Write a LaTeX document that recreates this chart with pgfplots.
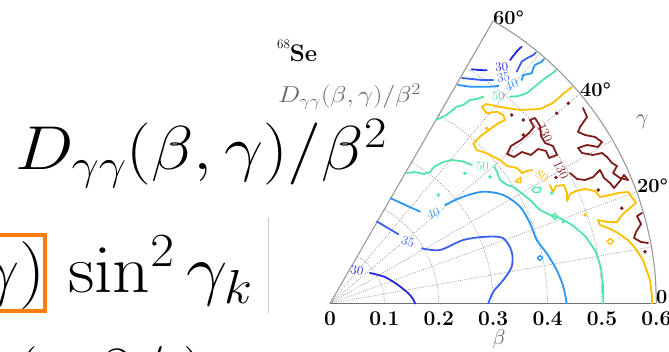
\RequirePackage{fix-cm}
\documentclass[border=0pt]{standalone}
\usepackage{pgfplots}
\pgfplotsset{compat=1.18}
\definecolor{c30}{RGB}{40,40,225}
\definecolor{c35}{RGB}{60,95,240}
\definecolor{c40}{RGB}{40,150,245}
\definecolor{c50}{RGB}{80,230,170}
\definecolor{c80}{RGB}{255,190,0}
\definecolor{c130}{RGB}{128,28,28}
\definecolor{boxorange}{RGB}{255,125,15}
\begin{document}
\begin{tikzpicture}[x=1pt,y=1pt,
  gridl/.style={black!45, line width=0.6pt, dash pattern=on 0.9pt off 1.3pt},
  cl/.style={line width=1.8pt, line join=round, line cap=round},
  lab/.style={font=\fontsize{13}{14}\selectfont, inner sep=0}]
\useasboundingbox (0,0) rectangle (669,352);
% ---- surrounding text of the screenshot ----
\node[anchor=base west, inner sep=0, xscale=1.12, font=\fontsize{62}{70}\selectfont] at (15,182) {$D_{\gamma\gamma}(\beta,\gamma)/\beta^2$};
\node[anchor=base east, inner sep=0, xscale=1.08, font=\fontsize{68}{72}\selectfont] at (46,59) {$\gamma)$};
\node[anchor=base west, inner sep=0, xscale=1.08, font=\fontsize{68}{72}\selectfont] at (68,59) {$\sin^2\gamma_k$};
\node[anchor=base west, inner sep=0, font=\fontsize{64}{70}\selectfont] at (15,-43) {$(\hspace{58pt}\partial\hspace{2pt}/\hspace{18pt})$};
\draw[boxorange, line width=4pt] (-10,40.7) rectangle (44.7,116.7);
\draw[black!22, line width=0.8pt] (268.3,39) -- (268.3,134);
\node[anchor=base west, inner sep=0] at (277,290) {\fontsize{13}{13}\selectfont\raisebox{13.5pt}{68}\fontsize{24}{28}\selectfont\bfseries Se};
\node[anchor=base west, inner sep=0, xscale=1.15, text=black!60, font=\fontsize{23}{26}\selectfont] at (278,249) {$D_{\gamma\gamma}(\beta,\gamma)/\beta^2$};
% ---- angle labels ----
\node[anchor=base west, inner sep=0, font=\fontsize{20}{24}\selectfont\bfseries] at (493,327) {60°};
\node[anchor=base west, inner sep=0, font=\fontsize{20}{24}\selectfont\bfseries] at (580,255) {40°};
\node[anchor=base west, inner sep=0, font=\fontsize{20}{24}\selectfont\bfseries] at (637,159) {20°};
\node[anchor=base west, inner sep=0, font=\fontsize{20}{24}\selectfont\bfseries] at (656,48.5) {0};
\node[anchor=base west, inner sep=0, text=black!65, font=\fontsize{22}{24}\selectfont] at (636,227.5) {$\gamma$};
\node[anchor=base, inner sep=0, text=black!65, font=\fontsize{21}{24}\selectfont] at (499,7) {$\beta$};
% ---- the polar wedge ----
\begin{axis}[
  at={(330pt,48.5pt)}, anchor=south west,
  x=544pt, y=544pt,
  xmin=0, xmax=0.6, ymin=0, ymax=0.53,
  clip=false,
  axis x line*=bottom, axis y line=none,
  x axis line style={draw=none},
  xtick={0,0.1,0.2,0.3,0.4,0.5,0.6},
  xticklabels={\textbf{0},\textbf{0.1},\textbf{0.2},\textbf{0.3},\textbf{0.4},\textbf{0.5},\textbf{0.6}},
  major tick length=0pt,
  xticklabel style={font=\fontsize{21}{24}\selectfont, inner sep=1pt, yshift=-7pt},
]
% grid arcs
\addplot[gridl, data cs=polar, smooth] coordinates {(0,0.1) (5,0.1) (10,0.1) (15,0.1) (20,0.1) (25,0.1) (30,0.1) (35,0.1) (40,0.1) (45,0.1) (50,0.1) (55,0.1) (60,0.1)};
\addplot[gridl, data cs=polar, smooth] coordinates {(0,0.2) (5,0.2) (10,0.2) (15,0.2) (20,0.2) (25,0.2) (30,0.2) (35,0.2) (40,0.2) (45,0.2) (50,0.2) (55,0.2) (60,0.2)};
\addplot[gridl, data cs=polar, smooth] coordinates {(0,0.3) (5,0.3) (10,0.3) (15,0.3) (20,0.3) (25,0.3) (30,0.3) (35,0.3) (40,0.3) (45,0.3) (50,0.3) (55,0.3) (60,0.3)};
\addplot[gridl, data cs=polar, smooth] coordinates {(0,0.4) (5,0.4) (10,0.4) (15,0.4) (20,0.4) (25,0.4) (30,0.4) (35,0.4) (40,0.4) (45,0.4) (50,0.4) (55,0.4) (60,0.4)};
\addplot[gridl, data cs=polar, smooth] coordinates {(0,0.5) (5,0.5) (10,0.5) (15,0.5) (20,0.5) (25,0.5) (30,0.5) (35,0.5) (40,0.5) (45,0.5) (50,0.5) (55,0.5) (60,0.5)};
% grid rays
\addplot[gridl, data cs=polar] coordinates {(10,0) (10,0.6)};
\addplot[gridl, data cs=polar] coordinates {(20,0) (20,0.6)};
\addplot[gridl, data cs=polar] coordinates {(30,0) (30,0.6)};
\addplot[gridl, data cs=polar] coordinates {(40,0) (40,0.6)};
\addplot[gridl, data cs=polar] coordinates {(50,0) (50,0.6)};
% frame
\addplot[black!40, line width=1.1pt, data cs=polar, smooth] coordinates {(0,0.6) (5,0.6) (10,0.6) (15,0.6) (20,0.6) (25,0.6) (30,0.6) (35,0.6) (40,0.6) (45,0.6) (50,0.6) (55,0.6) (60,0.6)};
\addplot[black!40, line width=1.1pt, data cs=polar] coordinates {(60,0) (60,0.6)};
\addplot[black!55, line width=1.4pt] coordinates {(0,0) (0.6,0)};

% ---- contour 30 ----
\addplot[cl, c30, smooth, tension=0.5] coordinates {(0.0735,0.0561) (0.1011,0.0487) (0.1250,0.0340) (0.1434,0.0193) (0.1526,0.0083) (0.1563,0)};
\addplot[cl, c30] coordinates {(0.2605,0.4305) (0.2739,0.4292) (0.2881,0.4287)};
\addplot[cl, c30] coordinates {(0.3309,0.4476) (0.3382,0.4568) (0.3456,0.4660) (0.3524,0.4721)};
\node[lab, text=c30, rotate=-10] at (axis cs:0.0496,0.0616) {30};
\node[lab, text=c30, rotate=5] at (axis cs:0.3156,0.4347) {30};
% ---- contour 35 ----
\addplot[cl, c35, smooth, tension=0.5] coordinates {(0.0864,0.1507) (0.1256,0.1272)};
\addplot[cl, c35, smooth, tension=0.5] coordinates {(0.1686,0.1015) (0.2022,0.0983) (0.2450,0.1167) (0.2881,0.1228) (0.3186,0.1199) (0.3340,0.0952) (0.3340,0.0676) (0.3186,0.0432) (0.3002,0.0217) (0.2910,0)};
\addplot[cl, c35] coordinates {(0.2426,0.4145) (0.2789,0.4108) (0.3002,0.4108)};
\addplot[cl, c35] coordinates {(0.3432,0.4261) (0.3524,0.4445) (0.3616,0.4507) (0.3737,0.4568) (0.3787,0.4614)};
\node[lab, text=c35, rotate=-20] at (axis cs:0.1434,0.1136) {35};
\node[lab, text=c35, rotate=10] at (axis cs:0.3186,0.4151) {35};
% ---- contour 40 ----
\addplot[cl, c40, smooth, tension=0.5] coordinates {(0.1116,0.1934) (0.1654,0.1688)};
\addplot[cl, c40, smooth, tension=0.5] coordinates {(0.2114,0.1811) (0.2450,0.1963) (0.2818,0.2055) (0.3186,0.1994) (0.3493,0.1779) (0.3676,0.1474) (0.3800,0.1167) (0.3983,0.0923) (0.4167,0.0616) (0.4289,0.0309) (0.4351,0)};
\addplot[cl, c40, line width=1.3pt] coordinates {(0.381,0.083) (0.386,0.088) (0.391,0.084) (0.386,0.079) (0.381,0.083)};
\addplot[cl, c40] coordinates {(0.2353,0.4017) (0.2574,0.3985) (0.2941,0.3985) (0.3100,0.4000)};
\addplot[cl, c40] coordinates {(0.3524,0.4108) (0.3553,0.4200) (0.3708,0.4232) (0.3737,0.4323) (0.3768,0.4384) (0.3891,0.4445) (0.3934,0.4494)};
\node[lab, text=c40, rotate=18] at (axis cs:0.1899,0.1658) {40};
\node[lab, text=c40, rotate=20] at (axis cs:0.3340,0.4017) {40};
% ---- contour 50 ----
\addplot[cl, c50] coordinates {(0.1949,0.3373) (0.2145,0.3465) (0.2260,0.3560) (0.2329,0.3618) (0.2450,0.3650) (0.2574,0.3741) (0.2700,0.3760) (0.2818,0.3801)};
\addplot[cl, c50] coordinates {(0.3309,0.3801) (0.3450,0.3810) (0.3616,0.3864) (0.3800,0.4017) (0.3952,0.4140) (0.4105,0.4243) (0.4154,0.4292)};
\node[lab, text=c50] at (axis cs:0.3094,0.3801) {50};
\addplot[cl, c50] coordinates {(0.1415,0.2399) (0.1563,0.2417) (0.1728,0.2381) (0.1838,0.2417) (0.1912,0.2509) (0.2077,0.2601) (0.2243,0.2638) (0.2445,0.2610) (0.2610,0.2546)};
\node[lab, text=c50] at (axis cs:0.2803,0.2528) {50};
\addplot[cl, c50] coordinates {(0.3015,0.2528) (0.3070,0.2417) (0.3125,0.2270) (0.3254,0.2178) (0.3382,0.2140) (0.3493,0.2050) (0.3676,0.1903) (0.3860,0.1719) (0.4044,0.1627) (0.4228,0.1572) (0.4449,0.1443) (0.4600,0.1320) (0.4706,0.1222) (0.4890,0.0947) (0.4982,0.0653) (0.5018,0.0340) (0.5024,0)};
\addplot[cl, c50, line width=1.3pt] coordinates {(0.371,0.209) (0.377,0.214) (0.388,0.212) (0.386,0.205) (0.376,0.204) (0.371,0.209)};
\addplot[cl, c50, line width=1.3pt] coordinates {(0.408,0.160) (0.413,0.166) (0.419,0.160) (0.413,0.154) (0.408,0.160)};
\addplot[only marks, mark=*, mark size=1.6pt, c50] coordinates {(0.2482,0.2393) (0.2941,0.2325) (0.1991,0.1994) (0.4289,0.1504) (0.4075,0.2026)};
% ---- contour 80 ----
\addplot[cl, c80] coordinates {(0.4449,0.3980) (0.4283,0.3851) (0.4099,0.3686) (0.3860,0.3575) (0.3493,0.3557) (0.3125,0.3612) (0.2868,0.3667) (0.2794,0.3612) (0.2881,0.3496) (0.3064,0.3526) (0.3186,0.3465) (0.3217,0.3373) (0.3094,0.3313) (0.3002,0.3250) (0.2881,0.3158) (0.2757,0.3066) (0.2634,0.2945) (0.2697,0.2822) (0.2881,0.2761) (0.3125,0.2638) (0.3254,0.2528) (0.3438,0.2491) (0.3529,0.2399) (0.3621,0.2436) (0.3713,0.2454)};
\node[lab, text=c80, rotate=-35] at (axis cs:0.3897,0.2344) {80};
\addplot[cl, c80] coordinates {(0.4044,0.2178) (0.4099,0.2050) (0.4154,0.2160) (0.4301,0.2178) (0.4357,0.2031) (0.4357,0.1884) (0.4412,0.2013) (0.4522,0.2068) (0.4688,0.2105) (0.4871,0.2068) (0.4963,0.1958) (0.5147,0.1994) (0.5294,0.2031) (0.5478,0.2050) (0.5625,0.1847) (0.5515,0.1756) (0.5368,0.1627) (0.5276,0.1498) (0.5092,0.1498) (0.4926,0.1535) (0.4963,0.1443) (0.5110,0.1388) (0.5294,0.1296) (0.5478,0.1167) (0.5607,0.1020) (0.5754,0.0800) (0.5882,0.0432) (0.5919,0.0119) (0.5919,0)};
\addplot[cl, c80, line width=1.3pt] coordinates {(0.340,0.224) (0.351,0.232) (0.350,0.222) (0.340,0.224)};
\addplot[cl, c80, line width=1.3pt] coordinates {(0.509,0.114) (0.515,0.120) (0.521,0.114) (0.515,0.108) (0.509,0.114)};
\addplot[only marks, mark=*, mark size=1.5pt, c80] coordinates {(0.4688,0.1627) (0.2881,0.3221)};
% ---- contour 130 ----
\addplot[cl, c130] coordinates {(0.4651,0.3594) (0.4724,0.3428) (0.4596,0.3244) (0.4559,0.3153) (0.4688,0.3097) (0.4871,0.3061) (0.5000,0.2969) (0.4926,0.2877) (0.4724,0.2914) (0.4559,0.2858) (0.4632,0.2767) (0.4835,0.2730) (0.5000,0.2767) (0.5092,0.2693) (0.5184,0.2583) (0.5276,0.2528) (0.5202,0.2399) (0.5331,0.2307) (0.5478,0.2270)};
\addplot[cl, c130] coordinates {(0.5478,0.2270) (0.5404,0.2362) (0.5331,0.2252) (0.5221,0.2123) (0.5147,0.2215) (0.5037,0.2307) (0.4963,0.2454) (0.4835,0.2325) (0.4688,0.2270) (0.4540,0.2289) (0.4412,0.2399)};
\addplot[cl, c130] coordinates {(0.3676,0.3373) (0.3750,0.3244) (0.3658,0.3134) (0.3511,0.3006) (0.3327,0.2895) (0.3254,0.2748) (0.3382,0.2693) (0.3529,0.2785) (0.3695,0.2730) (0.3824,0.2840) (0.3971,0.2803) (0.4026,0.2675) (0.4173,0.2730) (0.4099,0.2895) (0.3952,0.2950) (0.3879,0.3079) (0.3860,0.3263) (0.3768,0.3410) (0.3676,0.3373)};
\addplot[cl, c130] coordinates {(0.5735,0.1664) (0.5643,0.1608) (0.5717,0.1461) (0.5625,0.1314) (0.5588,0.1204) (0.5717,0.1131) (0.5846,0.1112)};
\addplot[only marks, mark=*, mark size=1.6pt, c130] coordinates {(0.3340,0.3465) (0.3553,0.3373) (0.3553,0.3097) (0.4381,0.3680) (0.4167,0.3496) (0.4154,0.2316) (0.4932,0.2086) (0.5362,0.1750) (0.5790,0.0952)};
\node[lab, text=c130, rotate=-65] at (axis cs:0.3952,0.3134) {130};
\node[lab, text=c130, rotate=-65] at (axis cs:0.4246,0.2454) {130};
\end{axis}
\end{tikzpicture}
\end{document}
